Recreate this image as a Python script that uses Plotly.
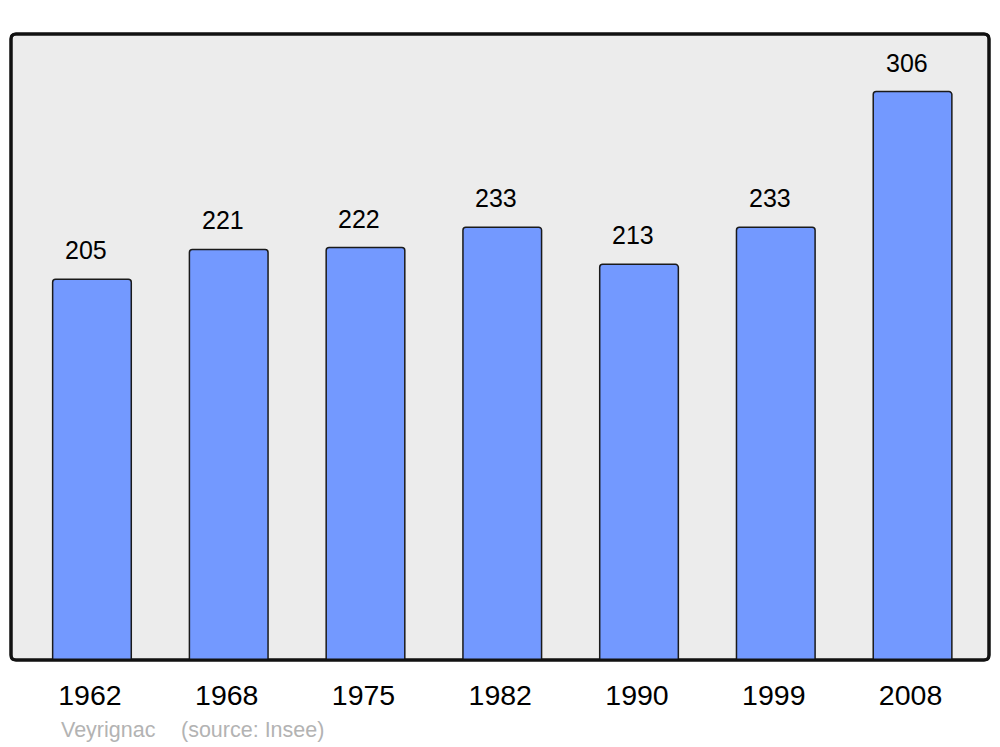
import plotly.graph_objects as go

years = ["1962", "1968", "1975", "1982", "1990", "1999", "2008"]
population = [205, 221, 222, 233, 213, 233, 306]
place = "Veyrignac"
source = "(source: Insee)"

W, H = 1000, 747
L, R, T, B = 11, 11, 34, 87
pw, ph = W - L - R, H - T - B
FONT = "Liberation Sans, Arial, sans-serif"

fig = go.Figure()
fig.add_trace(go.Bar(
    x=list(range(len(years))), y=population, width=0.575,
    marker=dict(color="#7399ff", line=dict(color="#1a1a1a", width=1.5)),
    hoverinfo="y",
))

for i, v in enumerate(population):
    fig.add_annotation(x=i, y=v, text=str(v), showarrow=False, yshift=29, xshift=-6,
                       font=dict(family=FONT, size=25, color="#000"))

# rounded frame
rx, ry = 5 / pw, 5 / ph
path = (f"M {rx},0 L {1-rx},0 Q 1,0 1,{ry} L 1,{1-ry} Q 1,1 {1-rx},1 "
        f"L {rx},1 Q 0,1 0,{1-ry} L 0,{ry} Q 0,0 {rx},0 Z")
fig.add_shape(type="path", xref="paper", yref="paper", path=path,
              fillcolor="#ececec", line=dict(color="#111", width=3), layer="below")
fig.add_shape(type="path", xref="paper", yref="paper", path=path,
              fillcolor="rgba(0,0,0,0)", line=dict(color="#111", width=3), layer="above")

fig.add_annotation(xref="paper", yref="paper", x=(59 - L) / pw, y=(H - B - 730) / ph,
                   xanchor="left", yanchor="middle", text=place, showarrow=False,
                   font=dict(family=FONT, size=21.5, color="#b3b3b3"))
fig.add_annotation(xref="paper", yref="paper", x=(179 - L) / pw, y=(H - B - 730) / ph,
                   xanchor="left", yanchor="middle", text=source, showarrow=False,
                   font=dict(family=FONT, size=21.5, color="#b3b3b3"))

fig.update_layout(
    width=W, height=H,
    margin=dict(l=L, r=R, t=T, b=B, pad=0),
    paper_bgcolor="white", plot_bgcolor="rgba(0,0,0,0)",
    barcornerradius=3,
    showlegend=False,
    font=dict(family=FONT),
    xaxis=dict(range=[-0.592, 6.559], showgrid=False, zeroline=False,
               showline=False, ticks="outside", ticklen=10, tickcolor="rgba(0,0,0,0)",
               tickmode="array", tickvals=list(range(len(years))), ticktext=years,
               ticklabelshift=-2,
               tickfont=dict(size=28.5, color="#000")),
    yaxis=dict(range=[0, 337], showgrid=False, zeroline=False, showline=False,
               showticklabels=False, ticks=""),
)

fig.write_html("out.html", config={"displayModeBar": False},
               post_script="document.body.style.margin='0';document.body.style.overflow='hidden';")
